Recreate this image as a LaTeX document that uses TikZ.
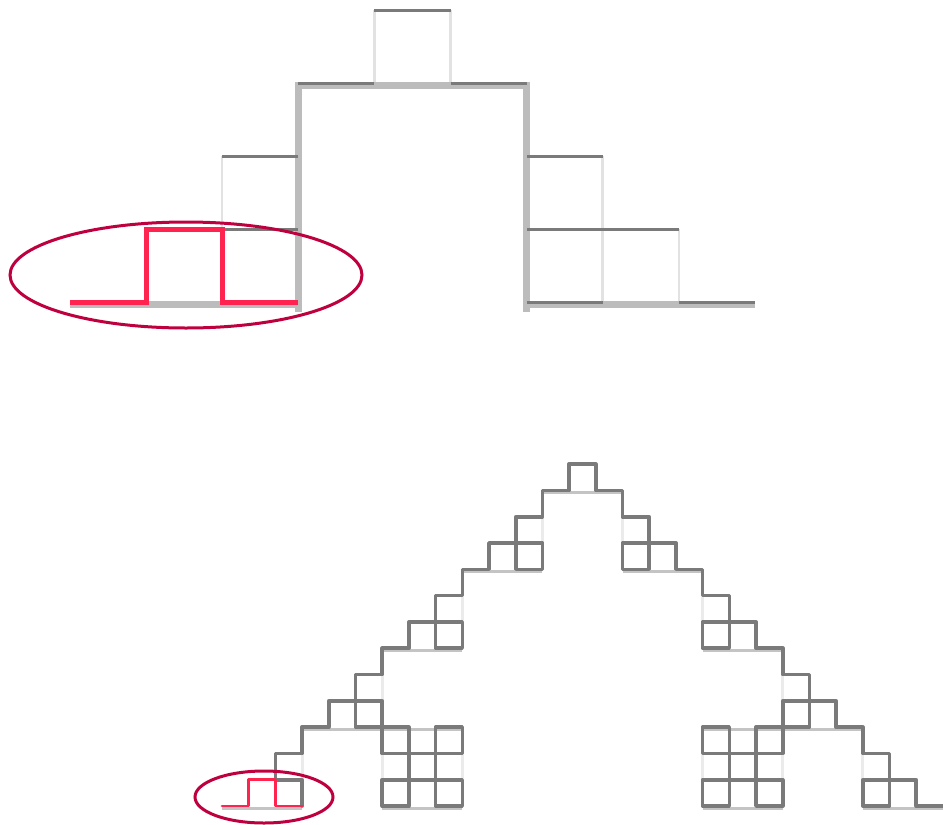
\documentclass[tikz,border=0pt]{standalone}
\definecolor{bargray}{RGB}{188,188,188}
\definecolor{darkgray}{RGB}{122,122,122}
\definecolor{palegray}{RGB}{226,226,226}
\definecolor{midgray}{RGB}{196,196,196}
\definecolor{hotred}{RGB}{255,36,80}
\definecolor{ringred}{RGB}{190,0,62}
\begin{document}
\begin{tikzpicture}[x=1pt,y=-1pt,
  levelone/.style={draw=bargray,line width=7pt,line cap=butt,line join=miter},
  tophoriz/.style={draw=darkgray,line width=3pt,line cap=butt},
  topvert/.style={draw=palegray,line width=2.5pt,line cap=butt},
  topred/.style={draw=hotred,line width=5pt,line cap=butt,line join=miter},
  remh/.style={draw=midgray,line width=3pt,line cap=butt},
  remv/.style={draw=palegray!70!white,line width=3pt,line cap=butt},
  levelthree/.style={draw=darkgray,line width=3.6pt,line cap=round,line join=round},
  botred/.style={draw=hotred,line width=2.8pt,line cap=round,line join=round},
  ring/.style={draw=ringred,line width=3pt}]
\useasboundingbox (0,0) rectangle (943,825);
% ---------- upper figure (second stage) ----------
\begin{scope}[shift={(70,302)},x=76.1pt,y=73pt]
  \draw[topvert] (3,0)--(3,1) (2,1)--(2,2) (3,2)--(3,3) (4,3)--(4,4) (5,4)--(5,3)
    (6,3)--(6,2) (7,2)--(7,1) (6,1)--(6,0) (7,0)--(7,1) (8,1)--(8,0);
  \begin{scope}[yshift=-2.5pt]
    \draw[levelone] (0,0)--(3,0) (3,-0.1)--(3,3)--(6,3)--(6,-0.1) (6,0)--(9,0);
  \end{scope}
  \draw[tophoriz] (3,1)--(2,1) (2,2)--(3,2) (3,3)--(4,3) (4,4)--(5,4) (5,3)--(6,3)
    (6,2)--(7,2) (7,1)--(6,1) (6,0)--(7,0) (7,1)--(8,1) (8,0)--(9,0);
  \draw[topred] (0,0)--(1,0)--(1,1)--(2,1)--(2,0)--(3,0);
\end{scope}
\draw[ring] (186,275) ellipse [x radius=176pt, y radius=53pt];
% ---------- lower figure (third stage) ----------
\begin{scope}[shift={(222,806)},x=26.7pt,y=26.3pt]
  \begin{scope}[yshift=-2pt]
    \draw[remh] (0,0)--(3,0) (3,3)--(6,3) (6,0)--(9,0) (9,3)--(6,3) (6,6)--(9,6)
      (9,9)--(12,9) (12,12)--(15,12) (15,9)--(18,9) (18,6)--(21,6) (21,3)--(18,3)
      (18,0)--(21,0) (21,3)--(24,3) (24,0)--(27,0);
  \end{scope}
  \draw[remv] (3,0)--(3,3) (6,3)--(6,0) (9,0)--(9,3) (6,3)--(6,6) (9,6)--(9,9)
    (12,9)--(12,12) (15,12)--(15,9) (18,9)--(18,6) (21,6)--(21,3) (18,3)--(18,0)
    (21,0)--(21,3) (24,3)--(24,0);
  \draw[levelthree] (3,0)--(3,1)--(2,1)--(2,2)--(3,2)--(3,3)--(4,3)--(4,4)--(5,4)--(5,3)
    --(6,3)--(6,2)--(7,2)--(7,1)--(6,1)--(6,0)--(7,0)--(7,1)--(8,1)--(8,0)--(9,0)
    --(9,1)--(8,1)--(8,2)--(9,2)--(9,3)--(8,3)--(8,2)--(7,2)--(7,3)--(6,3)--(6,4)
    --(5,4)--(5,5)--(6,5)--(6,6)--(7,6)--(7,7)--(8,7)--(8,6)--(9,6)--(9,7)--(8,7)
    --(8,8)--(9,8)--(9,9)--(10,9)--(10,10)--(11,10)--(11,9)--(12,9)--(12,10)--(11,10)
    --(11,11)--(12,11)--(12,12)--(13,12)--(13,13)--(14,13)--(14,12)--(15,12)--(15,11)
    --(16,11)--(16,10)--(15,10)--(15,9)--(16,9)--(16,10)--(17,10)--(17,9)--(18,9)
    --(18,8)--(19,8)--(19,7)--(18,7)--(18,6)--(19,6)--(19,7)--(20,7)--(20,6)--(21,6)
    --(21,5)--(22,5)--(22,4)--(21,4)--(21,3)--(20,3)--(20,2)--(19,2)--(19,3)--(18,3)
    --(18,2)--(19,2)--(19,1)--(18,1)--(18,0)--(19,0)--(19,1)--(20,1)--(20,0)--(21,0)
    --(21,1)--(20,1)--(20,2)--(21,2)--(21,3)--(22,3)--(22,4)--(23,4)--(23,3)--(24,3)
    --(24,2)--(25,2)--(25,1)--(24,1)--(24,0)--(25,0)--(25,1)--(26,1)--(26,0)--(27,0);
  \draw[botred] (0,0)--(1,0)--(1,1)--(2,1)--(2,0)--(3,0);
\end{scope}
\draw[ring] (264,797) ellipse [x radius=69pt, y radius=26pt];
\end{tikzpicture}
\end{document}
